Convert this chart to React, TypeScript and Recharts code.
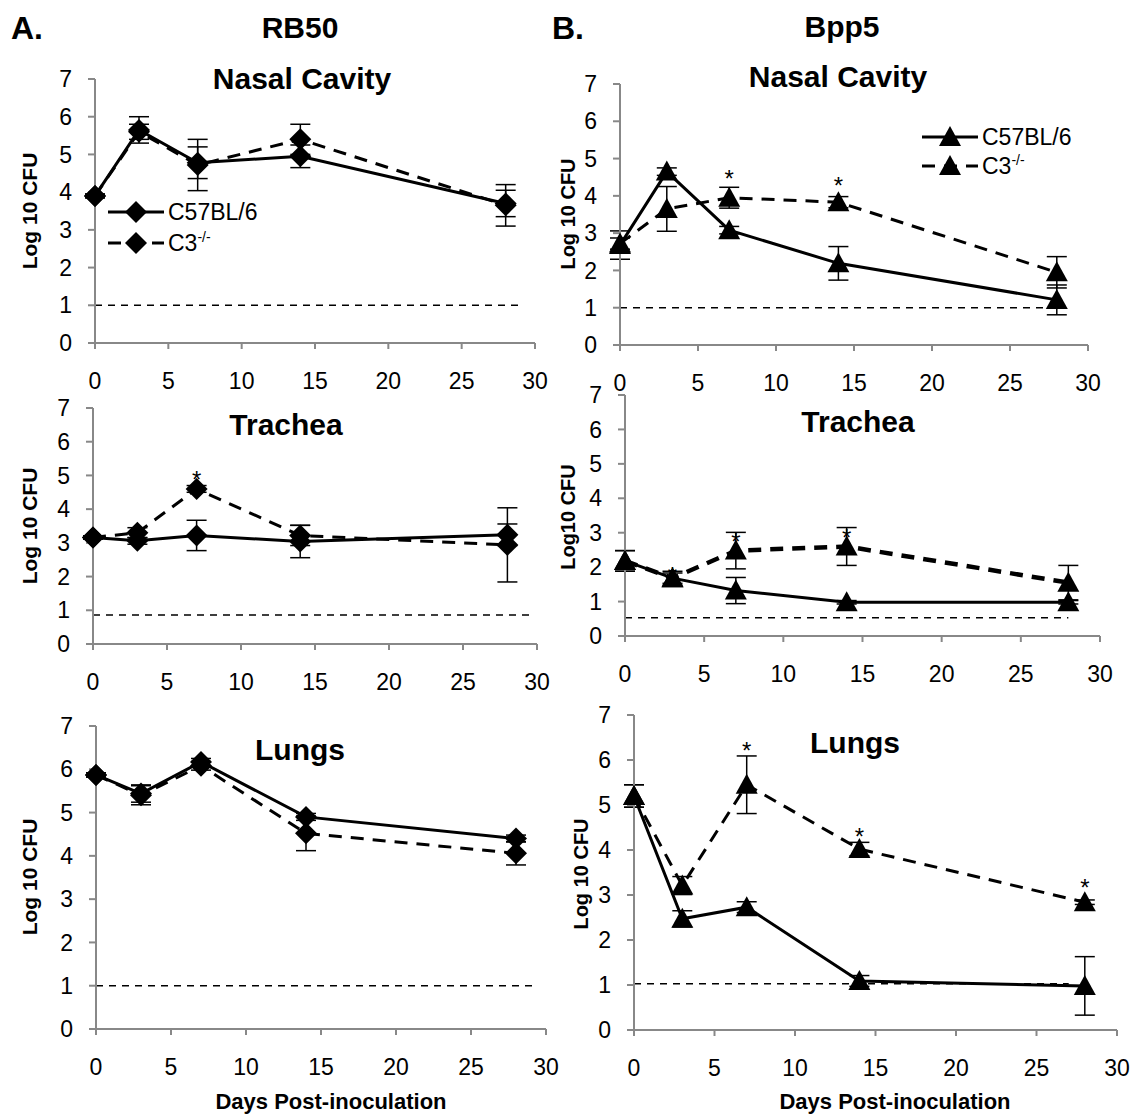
import React from "react";
import {
  ComposedChart, Line, XAxis, YAxis, ErrorBar, Scatter, ReferenceLine,
} from "recharts";

const FONT = "'Liberation Sans', Arial, sans-serif";

// sampling days
const days = [0, 3, 7, 14, 28];
const xTicks = [0, 5, 10, 15, 20, 25, 30];
const yTicks = [0, 1, 2, 3, 4, 5, 6, 7];

// RB50
const rbNasalC57 = [3.9, 5.65, 4.78, 4.95, 3.7];
const rbNasalC57Err = [0.05, 0.35, 0.42, 0.3, 0.35];
const rbNasalC3 = [3.9, 5.6, 4.72, 5.4, 3.65];
const rbNasalC3Err = [0.05, 0.2, 0.68, 0.4, 0.55];

const rbTracheaC57 = [3.16, 3.06, 3.22, 3.04, 3.24];
const rbTracheaC57Err = [0.05, 0.1, 0.45, 0.48, 0.32];
const rbTracheaC3 = [3.16, 3.3, 4.6, 3.22, 2.94];
const rbTracheaC3Err = [0.05, 0.15, 0.1, 0.3, 1.1];

const rbLungsC57 = [5.87, 5.44, 6.17, 4.9, 4.4];
const rbLungsC57Err = [0.05, 0.2, 0.08, 0.08, 0.08];
const rbLungsC3 = [5.87, 5.4, 6.08, 4.52, 4.06];
const rbLungsC3Err = [0.05, 0.22, 0.1, 0.4, 0.27];

// Bpp5
const bppNasalC57 = [2.68, 4.65, 3.08, 2.19, 1.21];
const bppNasalC57Err = [0.38, 0.1, 0.1, 0.45, 0.4];
const bppNasalC3 = [2.72, 3.65, 3.95, 3.83, 1.95];
const bppNasalC3Err = [0.15, 0.6, 0.28, 0.15, 0.42];

const bppTracheaC57 = [2.18, 1.68, 1.32, 0.98, 0.98];
const bppTracheaC57Err = [0.3, 0.2, 0.38, 0.05, 0.05];
const bppTracheaC3 = [2.18, 1.68, 2.48, 2.6, 1.55];
const bppTracheaC3Err = [0.3, 0.15, 0.53, 0.55, 0.5];

const bppLungsC57 = [5.2, 2.47, 2.73, 1.09, 0.98];
const bppLungsC57Err = [0.25, 0.18, 0.12, 0.12, 0.65];
const bppLungsC3 = [5.2, 3.21, 5.45, 4.02, 2.84];
const bppLungsC3Err = [0.25, 0.2, 0.64, 0.15, 0.05];

// significance markers (day, height)
const rbTracheaStarDays = [7];
const rbTracheaStarY = [4.97];
const bppNasalStarDays = [7, 14];
const bppNasalStarY = [4.56, 4.38];
const bppTracheaStarDays = [3, 7, 14];
const bppTracheaStarY = [1.85, 2.85, 2.95];
const bppLungsStarDays = [7, 14, 28];
const bppLungsStarY = [6.28, 4.38, 3.25];

// limit of detection (level, last day drawn)
const lodLevels = [1.0, 0.86, 1.0, 1.0, 0.53, 1.03];
const lodEnds = [29, 29.5, 29.3, 28.3, 28, 27];

const pts = (ys: number[], errs: number[]) =>
  days.map((d, i) => ({ x: d, y: ys[i], err: errs[i] }));
const stars = (xs: number[], ys: number[]) => xs.map((x, i) => ({ x, y: ys[i] }));

const Diamond = ({ cx, cy }: any) => (
  <polygon points={`${cx},${cy - 11} ${cx + 11},${cy} ${cx},${cy + 11} ${cx - 11},${cy}`} fill="#000" />
);
const Triangle = ({ cx, cy }: any) => (
  <polygon points={`${cx},${cy - 11} ${cx + 11},${cy + 9} ${cx - 11},${cy + 9}`} fill="#000" />
);

const Star = ({ cx, cy }: any) => (
  <text x={cx} y={cy + 12} textAnchor="middle" fontSize={24} fontFamily={FONT} fill="#000">*</text>
);

const YW = 45;
const TOP = 16;
const TICK_FONT = 23;

function Panel({ L, T, R, B, c57, c3, marker, lod, lodEnd, starData, dashW = 3 }: any) {
  const w = R - L + YW + 15;
  const h = B - T + TOP + 50;
  const Mk = marker === "tri" ? Triangle : Diamond;
  const dot = (p: any) => <Mk key={p.index} cx={p.cx} cy={p.cy} />;
  return (
    <div style={{ position: "absolute", left: L - YW, top: T - TOP }}>
      <ComposedChart width={w} height={h} margin={{ top: TOP, right: 15, left: 0, bottom: 0 }}>
        <XAxis
          type="number" dataKey="x" domain={[0, 30]} ticks={xTicks} interval={0}
          height={50} tickSize={6} tickMargin={24}
          axisLine={{ stroke: "#888", strokeWidth: 2 }}
          tickLine={{ stroke: "#888", strokeWidth: 2 }}
          tick={{ fontSize: TICK_FONT, fill: "#000", fontFamily: FONT }}
        />
        <YAxis
          type="number" domain={[0, 7]} ticks={yTicks} interval={0}
          width={YW} tickSize={7} tickMargin={16}
          axisLine={{ stroke: "#888", strokeWidth: 2 }}
          tickLine={{ stroke: "#888", strokeWidth: 2 }}
          tick={{ fontSize: TICK_FONT, fill: "#000", fontFamily: FONT }}
        />
        <ReferenceLine
          segment={[{ x: 0, y: lod }, { x: lodEnd, y: lod }]}
          stroke="#000" strokeWidth={1.5} strokeDasharray="7 6" ifOverflow="visible"
        />
        <Line
          data={c3} dataKey="y" stroke="#000" strokeWidth={dashW} strokeDasharray="13 9"
          dot={dot} activeDot={false} isAnimationActive={false}
        >
          <ErrorBar dataKey="err" width={10} stroke="#000" strokeWidth={1.5} direction="y" />
        </Line>
        <Line
          data={c57} dataKey="y" stroke="#000" strokeWidth={3}
          dot={dot} activeDot={false} isAnimationActive={false}
        >
          <ErrorBar dataKey="err" width={10} stroke="#000" strokeWidth={1.5} direction="y" />
        </Line>
        {starData && (
          <Scatter data={starData} dataKey="y" shape={(p: any) => <Star cx={p.cx} cy={p.cy} />} isAnimationActive={false} />
        )}
      </ComposedChart>
    </div>
  );
}

const Txt = ({ x, y, size = 30, bold = true, rotate = false, children, anchor = "center" }: any) => (
  <div
    style={{
      position: "absolute", left: x, top: y, fontFamily: FONT, fontSize: size,
      fontWeight: bold ? "bold" : "normal", whiteSpace: "nowrap", lineHeight: 1,
      transform: anchor === "center"
        ? `translate(-50%, -50%)${rotate ? " rotate(-90deg)" : ""}`
        : "translate(0, -50%)",
    }}
  >
    {children}
  </div>
);

function LegendRow({ x, y, marker, dashed, children }: any) {
  const Mk = marker === "tri" ? Triangle : Diamond;
  return (
    <div style={{ position: "absolute", left: x, top: y - 14, display: "flex", alignItems: "center", fontFamily: FONT, fontSize: 23 }}>
      <svg width={60} height={28}>
        <line x1={2} y1={14} x2={58} y2={14} stroke="#000" strokeWidth={3} strokeDasharray={dashed ? "13 9" : undefined} />
        <Mk cx={30} cy={14} />
      </svg>
      <span style={{ marginLeft: 2 }}>{children}</span>
    </div>
  );
}

const C3Label = () => (
  <span>C3<sup style={{ fontSize: 14 }}>-/-</sup></span>
);

export default function App() {
  return (
    <div style={{ position: "absolute", left: 0, top: 0, width: 1130, height: 1120, background: "#fff" }}>
      <Panel L={95} T={79} R={535} B={343} marker="dia"
        c57={pts(rbNasalC57, rbNasalC57Err)} c3={pts(rbNasalC3, rbNasalC3Err)}
        lod={lodLevels[0]} lodEnd={lodEnds[0]} />
      <Panel L={93} T={408} R={537} B={644} marker="dia"
        c57={pts(rbTracheaC57, rbTracheaC57Err)} c3={pts(rbTracheaC3, rbTracheaC3Err)}
        lod={lodLevels[1]} lodEnd={lodEnds[1]} starData={stars(rbTracheaStarDays, rbTracheaStarY)} />
      <Panel L={96} T={726} R={546} B={1029} marker="dia"
        c57={pts(rbLungsC57, rbLungsC57Err)} c3={pts(rbLungsC3, rbLungsC3Err)}
        lod={lodLevels[2]} lodEnd={lodEnds[2]} />
      <Panel L={620} T={84} R={1088} B={345} marker="tri"
        c57={pts(bppNasalC57, bppNasalC57Err)} c3={pts(bppNasalC3, bppNasalC3Err)}
        lod={lodLevels[3]} lodEnd={lodEnds[3]} starData={stars(bppNasalStarDays, bppNasalStarY)} />
      <Panel L={625} T={395} R={1100} B={636} marker="tri" dashW={4.5}
        c57={pts(bppTracheaC57, bppTracheaC57Err)} c3={pts(bppTracheaC3, bppTracheaC3Err)}
        lod={lodLevels[4]} lodEnd={lodEnds[4]} starData={stars(bppTracheaStarDays, bppTracheaStarY)} />
      <Panel L={634} T={715} R={1117} B={1030} marker="tri"
        c57={pts(bppLungsC57, bppLungsC57Err)} c3={pts(bppLungsC3, bppLungsC3Err)}
        lod={lodLevels[5]} lodEnd={lodEnds[5]} starData={stars(bppLungsStarDays, bppLungsStarY)} />

      <Txt x={11} y={28} size={32} anchor="left">A.</Txt>
      <Txt x={552} y={28} size={32} anchor="left">B.</Txt>
      <Txt x={300} y={28}>RB50</Txt>
      <Txt x={842} y={27}>Bpp5</Txt>

      <Txt x={302} y={79}>Nasal Cavity</Txt>
      <Txt x={838} y={77}>Nasal Cavity</Txt>
      <Txt x={286} y={425}>Trachea</Txt>
      <Txt x={858} y={422}>Trachea</Txt>
      <Txt x={300} y={750}>Lungs</Txt>
      <Txt x={855} y={743}>Lungs</Txt>

      <Txt x={29} y={211} size={21} rotate>Log 10 CFU</Txt>
      <Txt x={29} y={526} size={21} rotate>Log 10 CFU</Txt>
      <Txt x={29} y={877} size={21} rotate>Log 10 CFU</Txt>
      <Txt x={568} y={214} size={20} rotate>Log 10 CFU</Txt>
      <Txt x={568} y={517} size={20} rotate>Log10 CFU</Txt>
      <Txt x={581} y={874} size={20} rotate>Log 10 CFU</Txt>

      <Txt x={331} y={1102} size={22}>Days Post-inoculation</Txt>
      <Txt x={895} y={1102} size={22}>Days Post-inoculation</Txt>

      <LegendRow x={106} y={212} marker="dia">C57BL/6</LegendRow>
      <LegendRow x={106} y={243} marker="dia" dashed><C3Label /></LegendRow>
      <LegendRow x={920} y={137} marker="tri">C57BL/6</LegendRow>
      <LegendRow x={920} y={166} marker="tri" dashed><C3Label /></LegendRow>
    </div>
  );
}
